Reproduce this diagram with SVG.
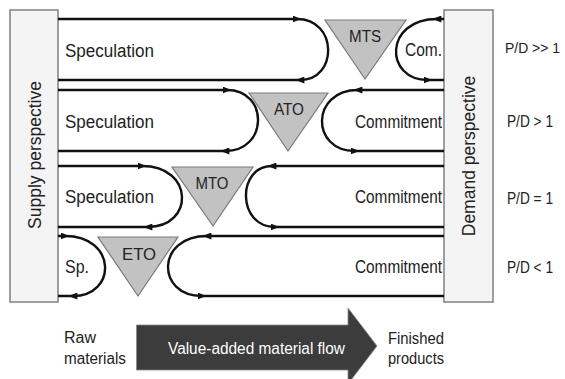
<svg xmlns="http://www.w3.org/2000/svg" width="565" height="379" viewBox="0 0 565 379">
<style>
.box{fill:#f4f4f4;stroke:#808080;stroke-width:1.5}
.tri{fill:#c2c2c2;stroke:#7a7a7a;stroke-width:1.2}
.flow{fill:none;stroke:#111;stroke-width:2.4;marker-mid:url(#ah)}
text{font-family:"Liberation Sans",Arial,sans-serif;fill:#222}
.lbl{font-size:18px}
.tl{font-size:16px;text-anchor:middle}
.pd{font-size:16px}
.vt{font-size:17.5px;text-anchor:middle}
.bt{font-size:16px}
</style>
<defs>
<marker id="ah" viewBox="0 0 10 8" refX="5" refY="4" markerWidth="9" markerHeight="7" markerUnits="userSpaceOnUse" orient="auto"><path d="M0,0 L10,4 L0,8 z" fill="#111"/></marker>
</defs>
<rect width="565" height="379" fill="#ffffff"/>

<g id="supply">
<rect class="box" x="10" y="10" width="48" height="292"/>
<text class="vt" transform="translate(41,155) rotate(-90)">Supply perspective</text>
</g>
<g id="demand">
<rect class="box" x="444" y="10" width="49" height="292"/>
<text class="vt" transform="translate(475,156) rotate(-90)">Demand perspective</text>
</g>

<g id="connectors">
<path class="flow" d="M58,19 H297 C338,19 338,80 300,80 H58"/>
<path class="flow" d="M444,19 H437 C384,19 384,80 428,80 H444"/>
<path class="flow" d="M58,90 H227 C268.7,90 268.7,151 225,151 H58"/>
<path class="flow" d="M444,90 H358 C310.5,90 310.5,151 355,151 H444"/>
<path class="flow" d="M58,166 H142 C194.3,166 194.3,227 148,227 H58"/>
<path class="flow" d="M444,166 H272 C236.8,166 236.8,227 275,227 H444"/>
<path class="flow" d="M58,236 H65 C117,236 117,296 73,296 H58"/>
<path class="flow" d="M444,236 H207 C155.9,236 155.9,296 202,296 H444"/>
</g>

<g id="mts">
<polygon class="tri" points="325,20 406,20 365,79"/>
<text class="tl" x="365" y="41.5" textLength="32" lengthAdjust="spacingAndGlyphs">MTS</text>
</g>
<g id="ato">
<polygon class="tri" points="249,93 328,93 288,151"/>
<text class="tl" x="289" y="115" textLength="30" lengthAdjust="spacingAndGlyphs">ATO</text>
</g>
<g id="mto">
<polygon class="tri" points="172,167 253,167 213,226"/>
<text class="tl" x="212" y="189" textLength="33" lengthAdjust="spacingAndGlyphs">MTO</text>
</g>
<g id="eto">
<polygon class="tri" points="98,237 178,237 138,296"/>
<text class="tl" x="139" y="260" textLength="34" lengthAdjust="spacingAndGlyphs">ETO</text>
</g>

<g id="row-labels">
<text class="lbl" x="65" y="57" textLength="89" lengthAdjust="spacingAndGlyphs">Speculation</text>
<text class="lbl" x="65" y="128" textLength="89" lengthAdjust="spacingAndGlyphs">Speculation</text>
<text class="lbl" x="65" y="203" textLength="89" lengthAdjust="spacingAndGlyphs">Speculation</text>
<text class="lbl" x="65" y="273" textLength="24" lengthAdjust="spacingAndGlyphs">Sp.</text>
<text class="lbl" x="405" y="56" textLength="37" lengthAdjust="spacingAndGlyphs">Com.</text>
<text class="lbl" x="355" y="128" textLength="87" lengthAdjust="spacingAndGlyphs">Commitment</text>
<text class="lbl" x="355" y="203" textLength="87" lengthAdjust="spacingAndGlyphs">Commitment</text>
<text class="lbl" x="355" y="273" textLength="87" lengthAdjust="spacingAndGlyphs">Commitment</text>
</g>

<g id="pd-labels">
<text class="pd" x="505" y="53" style="font-size:14.5px" textLength="55" lengthAdjust="spacingAndGlyphs">P/D &gt;&gt; 1</text>
<text class="pd" x="507" y="127" textLength="46" lengthAdjust="spacingAndGlyphs">P/D &gt; 1</text>
<text class="pd" x="507" y="204" textLength="46" lengthAdjust="spacingAndGlyphs">P/D = 1</text>
<text class="pd" x="507" y="273" textLength="46" lengthAdjust="spacingAndGlyphs">P/D &lt; 1</text>
</g>

<g id="material-flow">
<path d="M136.5,325 H348 V308 L377,346 L348,384 V370 H136.5 Z" fill="#3c3c3c" stroke="#888" stroke-width="0.8"/>
<text class="bt" x="168" y="354" textLength="177" lengthAdjust="spacingAndGlyphs" style="fill:#ffffff">Value-added material flow</text>
</g>
<g id="raw">
<text class="bt" x="64" y="343">Raw</text>
<text class="bt" x="64" y="364" textLength="62" lengthAdjust="spacingAndGlyphs">materials</text>
</g>
<g id="finished">
<text class="bt" x="388" y="344" textLength="56" lengthAdjust="spacingAndGlyphs">Finished</text>
<text class="bt" x="388" y="364" textLength="56" lengthAdjust="spacingAndGlyphs">products</text>
</g>
</svg>
